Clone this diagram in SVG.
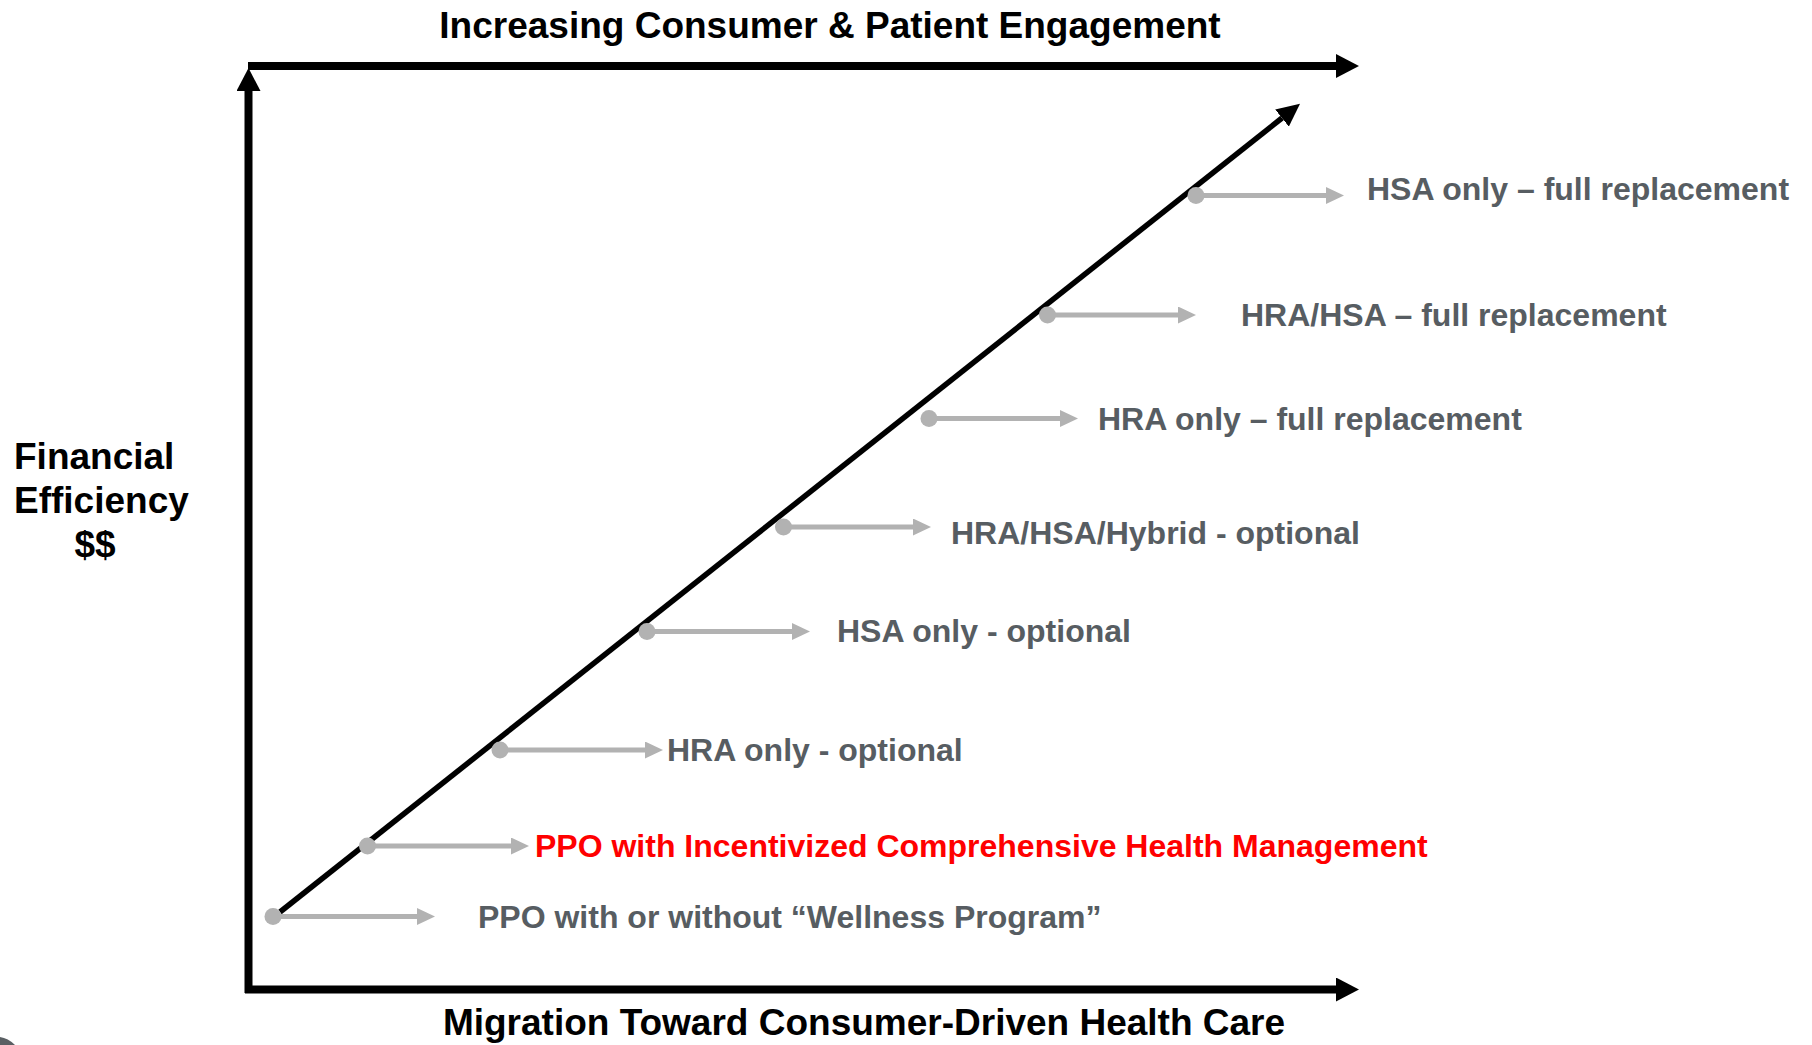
<svg xmlns="http://www.w3.org/2000/svg" width="1812" height="1045" viewBox="0 0 1812 1045">
  <style>
    text { font-family: "Liberation Sans", Arial, sans-serif; font-weight: bold; }
    .axis-title { font-size: 37px; fill: #000000; }
    .label { font-size: 32px; fill: #575d62; }
    .label-hot { font-size: 32px; fill: #ff0000; }
    .axis { stroke: #000000; stroke-width: 8; fill: none; }
    .diag { stroke: #000000; stroke-width: 5.5; fill: none; }
    .step { stroke: #b2b2b2; stroke-width: 5; fill: none; }
    .dot { fill: #b2b2b2; }
  </style>
  <defs>
    <marker id="axisHead" markerUnits="userSpaceOnUse" markerWidth="24" markerHeight="24" refX="0" refY="12" orient="auto">
      <path d="M0,0 L23,12 L0,24 Z" fill="#000000"/>
    </marker>
    <marker id="diagHead" markerUnits="userSpaceOnUse" markerWidth="24" markerHeight="22" refX="0" refY="11" orient="auto">
      <path d="M0,0 L23,11 L0,22 Z" fill="#000000"/>
    </marker>
    <marker id="stepHead" markerUnits="userSpaceOnUse" markerWidth="19" markerHeight="17" refX="0" refY="8.5" orient="auto">
      <path d="M0,0 L18,8.5 L0,17 Z" fill="#b2b2b2"/>
    </marker>
  </defs>

  <rect x="0" y="0" width="1812" height="1045" fill="#ffffff"/>

  <!-- axes and the migration diagonal -->
  <g id="connectors">
    <line class="axis" x1="248" y1="66" x2="1336" y2="66" marker-end="url(#axisHead)"/>
    <line class="axis" x1="248.5" y1="993" x2="248.5" y2="91" marker-end="url(#axisHead)"/>
    <line class="axis" x1="245" y1="989.5" x2="1336" y2="989.5" marker-end="url(#axisHead)"/>
    <line class="diag" x1="280" y1="912" x2="1282" y2="118" marker-end="url(#diagHead)"/>
  </g>

  <!-- axis captions -->
  <g id="axis-top">
    <text class="axis-title" x="830" y="38" text-anchor="middle">Increasing Consumer &amp; Patient Engagement</text>
  </g>
  <g id="axis-bottom">
    <text class="axis-title" x="864" y="1035" text-anchor="middle">Migration Toward Consumer-Driven Health Care</text>
  </g>
  <g id="axis-left">
    <text class="axis-title" x="14" y="469">Financial</text>
    <text class="axis-title" x="14" y="513">Efficiency</text>
    <text class="axis-title" x="95" y="557" text-anchor="middle">$$</text>
  </g>

  <!-- plan stages along the diagonal -->
  <g id="stage-ppo-wellness">
    <line class="step" x1="273" y1="916.5" x2="417" y2="916.5" marker-end="url(#stepHead)"/>
    <circle class="dot" cx="273" cy="916.5" r="8.5"/>
    <text class="label" x="478" y="927.5">PPO with or without “Wellness Program”</text>
  </g>
  <g id="stage-ppo-incentivized">
    <line class="step" x1="367.5" y1="846" x2="511" y2="846" marker-end="url(#stepHead)"/>
    <circle class="dot" cx="367.5" cy="846" r="8.5"/>
    <text class="label-hot" x="535" y="857">PPO with Incentivized Comprehensive Health Management</text>
  </g>
  <g id="stage-hra-optional">
    <line class="step" x1="500" y1="750" x2="645" y2="750" marker-end="url(#stepHead)"/>
    <circle class="dot" cx="500" cy="750" r="8.5"/>
    <text class="label" x="667" y="761">HRA only - optional</text>
  </g>
  <g id="stage-hsa-optional">
    <line class="step" x1="647" y1="631.5" x2="792" y2="631.5" marker-end="url(#stepHead)"/>
    <circle class="dot" cx="647" cy="631.5" r="8.5"/>
    <text class="label" x="837" y="642">HSA only - optional</text>
  </g>
  <g id="stage-hybrid-optional">
    <line class="step" x1="783.5" y1="527" x2="913" y2="527" marker-end="url(#stepHead)"/>
    <circle class="dot" cx="783.5" cy="527" r="8.5"/>
    <text class="label" x="951" y="544">HRA/HSA/Hybrid - optional</text>
  </g>
  <g id="stage-hra-full">
    <line class="step" x1="929" y1="418.5" x2="1060" y2="418.5" marker-end="url(#stepHead)"/>
    <circle class="dot" cx="929" cy="418.5" r="8.5"/>
    <text class="label" x="1098" y="430">HRA only – full replacement</text>
  </g>
  <g id="stage-hra-hsa-full">
    <line class="step" x1="1047.5" y1="315" x2="1178" y2="315" marker-end="url(#stepHead)"/>
    <circle class="dot" cx="1047.5" cy="315" r="8.5"/>
    <text class="label" x="1241" y="326">HRA/HSA – full replacement</text>
  </g>
  <g id="stage-hsa-full">
    <line class="step" x1="1196" y1="195.5" x2="1326" y2="195.5" marker-end="url(#stepHead)"/>
    <circle class="dot" cx="1196" cy="195.5" r="8.5"/>
    <text class="label" x="1367" y="199.5">HSA only – full replacement</text>
  </g>

  <!-- sliver of a shape at the lower-left edge -->
  <path d="M0,1037 Q8,1038 15,1045 L0,1045 Z" fill="#5a5f63"/>
</svg>
